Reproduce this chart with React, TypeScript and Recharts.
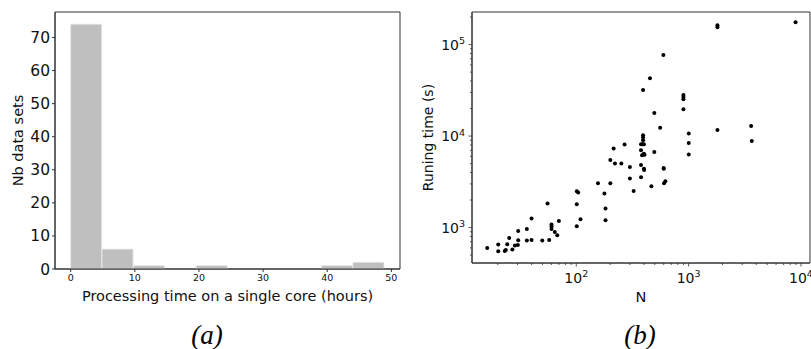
import React from 'react'
import { BarChart, Bar, XAxis, YAxis, ReferenceArea, ScatterChart, Scatter } from 'recharts'

// histogram (a)
const binStarts = [0, 4.89, 9.78, 14.67, 19.56, 24.45, 29.34, 34.23, 39.12, 44.01]
const binCounts = [74, 6, 1, 0, 1, 0, 0, 0, 1, 2]
const binWidth = 4.89
const hoursTicks = [0, 10, 20, 30, 40, 50]
const countTicks = [0, 10, 20, 30, 40, 50, 60, 70]

// scatter (b)
const sizeN = [
  16.1, 20.2, 20.2, 23.1, 23.6, 24.3, 25.3, 27, 28.4, 30.2,
  30.4, 30.4, 36.3, 36.3, 40, 40, 49.8, 55.5, 57.4, 60.2,
  60.2, 60.2, 64.4, 67.7, 70, 101, 104, 101, 101, 109,
  156, 178, 182, 182, 201, 201, 215, 221, 252, 269,
  300, 300, 324, 377, 377, 388, 400, 393, 393, 393,
  385, 395, 400, 405, 400, 402, 377, 377, 393, 453,
  466, 495, 495, 558, 596, 600, 600, 604, 621, 899,
  899, 899, 899, 1002, 1002, 1002, 1805, 1805, 1805, 3600,
  3650, 8950,
]
const runTime = [
  598, 652, 551, 555, 569, 656, 770, 575, 635, 645,
  726, 918, 721, 966, 733, 1254, 721, 1829, 733, 1079,
  1025, 966, 895, 824, 1181, 2495, 2410, 1800, 1033, 1232,
  3050, 2350, 1613, 1202, 3050, 5480, 7300, 5000, 5000, 8070,
  4590, 3430, 2510, 7000, 8150, 8150, 8150, 10200, 9640, 9020,
  6170, 6300, 6400, 6250, 4400, 4250, 4830, 3550, 31900, 42800,
  2825, 17900, 6700, 12300, 76900, 4480, 4400, 3050, 3210, 28100,
  26800, 25200, 19700, 10700, 8410, 6280, 163000, 155000, 11660, 12900,
  8840, 175000,
]
const nTicks = [20, 30, 40, 50, 60, 70, 80, 90, 100, 200, 300, 400, 500, 600, 700, 800, 900, 1000, 2000, 3000, 4000, 5000, 6000, 7000, 8000, 9000, 10000]
const timeTicks = [500, 600, 700, 800, 900, 1000, 2000, 3000, 4000, 5000, 6000, 7000, 8000, 9000, 10000, 20000, 30000, 40000, 50000, 60000, 70000, 80000, 90000, 100000, 200000]

const histData = binStarts.map((s, i) => ({ mid: s + binWidth / 2, count: binCounts[i] }))
const scatterData = sizeN.map((n, i) => ({ n, t: runTime[i] }))

const FONT = 'DejaVu Sans'
const INK = '#111'
const SPINE = '#333'

const isMajor = (v: number) => Math.abs(Math.log10(v) - Math.round(Math.log10(v))) < 1e-6

const LogXTick = (props: any) => {
  const { x, y, payload } = props
  const v = payload.value
  const major = isMajor(v)
  return (
    <g>
      <line x1={x} x2={x} y1={y} y2={y + (major ? 3.5 : 2)} stroke={SPINE} strokeWidth={0.8} />
      {major && (
        <text x={x} y={y + 19.5} textAnchor="middle" fontSize={14} fill={INK} fontFamily={FONT}>
          <tspan>10</tspan>
          <tspan dy={-5.5} fontSize={9.5}>{Math.round(Math.log10(v))}</tspan>
        </text>
      )}
    </g>
  )
}

const LogYTick = (props: any) => {
  const { x, y, payload } = props
  const v = payload.value
  const major = isMajor(v)
  return (
    <g>
      <line x1={x} x2={x - (major ? 3.5 : 2)} y1={y} y2={y} stroke={SPINE} strokeWidth={0.8} />
      {major && (
        <text x={x - 7} y={y + 5} textAnchor="end" fontSize={14} fill={INK} fontFamily={FONT}>
          <tspan>10</tspan>
          <tspan dy={-5.5} fontSize={9.5}>{Math.round(Math.log10(v))}</tspan>
        </text>
      )}
    </g>
  )
}

const Dot = (p: any) => <circle cx={p.cx} cy={p.cy} r={2} fill="#000" />

const caption: React.CSSProperties = {
  position: 'absolute',
  top: 322,
  fontFamily: 'Liberation Serif',
  fontStyle: 'italic',
  fontSize: 27,
  lineHeight: '27px',
  textAlign: 'center',
  color: '#000',
}

export default function App() {
  return (
    <div style={{ position: 'absolute', left: 0, top: 0, width: 811, height: 349, background: '#fff' }}>
      <div style={{ position: 'absolute', left: 0, top: 0 }}>
        <BarChart width={410} height={349} data={histData} margin={{ top: 12, right: 10, bottom: 40, left: 0 }} barCategoryGap={0} barGap={0}>
          <XAxis
            type="number"
            dataKey="mid"
            domain={[-2.445, 51.345]}
            allowDataOverflow
            ticks={hoursTicks}
            interval={0}
            height={40}
            tickSize={3}
            tickMargin={2}
            stroke={SPINE}
            tick={{ fontSize: 9.5, fill: INK, fontFamily: FONT }}
            label={{ value: 'Processing time on a single core (hours)', position: 'insideBottom', offset: 8, style: { fontSize: 14.5, fill: INK, fontFamily: FONT } }}
          />
          <YAxis
            type="number"
            domain={[0, 77.7]}
            allowDataOverflow
            ticks={countTicks}
            interval={0}
            width={55}
            tickSize={3}
            tickMargin={2}
            stroke={SPINE}
            tick={{ fontSize: 15.5, fill: INK, fontFamily: FONT }}
            label={{ value: 'Nb data sets', angle: -90, position: 'insideLeft', offset: 18, style: { textAnchor: 'middle', fontSize: 14.5, fill: INK, fontFamily: FONT } }}
          />
          <Bar dataKey="count" fill="#bfbfbf" stroke="#e4e4e4" strokeWidth={0.8} isAnimationActive={false} />
          <ReferenceArea x1={-2.445} x2={51.345} y1={0} y2={77.7} fill="none" stroke={SPINE} strokeWidth={1} />
        </BarChart>
      </div>
      <div style={{ position: 'absolute', left: 410, top: 0 }}>
        <ScatterChart width={401} height={349} margin={{ top: 12, right: 1, bottom: 46, left: 0 }}>
          <XAxis
            type="number"
            dataKey="n"
            scale="log"
            domain={[11.8, 12030]}
            allowDataOverflow
            ticks={nTicks}
            interval={0}
            height={40}
            tickSize={0}
            tickMargin={0}
            tickLine={false}
            stroke={SPINE}
            tick={<LogXTick />}
            label={{ value: 'N', position: 'insideBottom', offset: 1, style: { fontSize: 14.5, fill: INK, fontFamily: FONT } }}
          />
          <YAxis
            type="number"
            dataKey="t"
            scale="log"
            domain={[410, 227000]}
            allowDataOverflow
            ticks={timeTicks}
            interval={0}
            width={62}
            tickSize={0}
            tickMargin={0}
            tickLine={false}
            stroke={SPINE}
            tick={<LogYTick />}
            label={{ value: 'Runing time (s)', angle: -90, position: 'insideLeft', offset: 18, style: { textAnchor: 'middle', fontSize: 14, fill: INK, fontFamily: FONT } }}
          />
          <Scatter data={scatterData} fill="#000" shape={Dot} isAnimationActive={false} />
          <ReferenceArea x1={11.8} x2={12030} y1={410} y2={227000} fill="none" stroke={SPINE} strokeWidth={1} />
        </ScatterChart>
      </div>
      <div style={{ ...caption, left: 0, width: 414 }}>(a)</div>
      <div style={{ ...caption, left: 410, width: 460 }}>(b)</div>
    </div>
  )
}
